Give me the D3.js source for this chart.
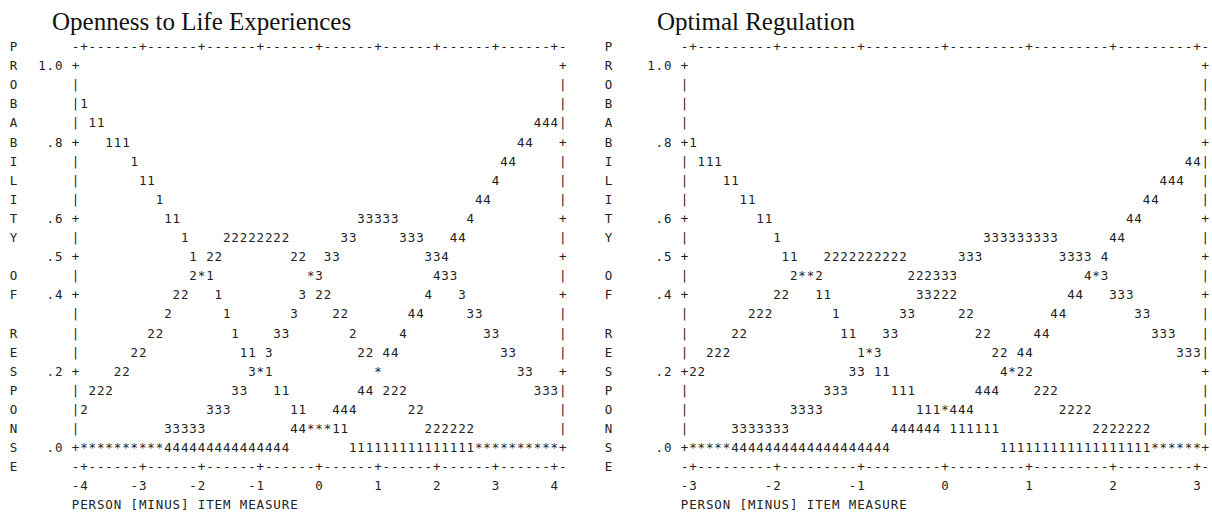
<!DOCTYPE html>
<html><head><meta charset="utf-8">
<script src="https://cdn.jsdelivr.net/npm/d3@7"></script>
<style>body{margin:0;background:#fff}</style>
</head><body>
<svg id="chart" width="1212" height="515"></svg>
<script>
const sp = n => " ".repeat(n);

// ---- Panel 1: Openness to Life Experiences (category probability curves, Winsteps text plot)
const openTitle = "Openness to Life Experiences";
const openXTicks = [-4, -3, -2, -1, 0, 1, 2, 3, 4];
const openRows = [
  "",
  "",
  "1",
  sp(1) + "11" + sp(51) + "444",
  sp(3) + "111" + sp(46) + "44",
  sp(6) + "1" + sp(43) + "44",
  sp(7) + "11" + sp(40) + "4",
  sp(9) + "1" + sp(37) + "44",
  sp(10) + "11" + sp(21) + "33333" + sp(8) + "4",
  sp(12) + "1" + sp(4) + "22222222" + sp(6) + "33" + sp(5) + "333" + sp(3) + "44",
  sp(13) + "1 22" + sp(8) + "22  33" + sp(10) + "334",
  sp(13) + "2*1" + sp(11) + "*3" + sp(13) + "433",
  sp(11) + "22   1" + sp(9) + "3 22" + sp(11) + "4   3",
  sp(10) + "2" + sp(6) + "1" + sp(7) + "3" + sp(4) + "22" + sp(7) + "44" + sp(5) + "33",
  sp(8) + "22" + sp(8) + "1" + sp(4) + "33" + sp(7) + "2" + sp(5) + "4" + sp(9) + "33",
  sp(6) + "22" + sp(11) + "11 3" + sp(10) + "22 44" + sp(12) + "33",
  sp(4) + "22" + sp(14) + "3*1" + sp(12) + "*" + sp(16) + "33",
  sp(1) + "222" + sp(14) + "33   11" + sp(8) + "44 222" + sp(15) + "333",
  "2" + sp(14) + "333" + sp(7) + "11   444" + sp(6) + "22",
  sp(10) + "33333" + sp(10) + "44***11" + sp(9) + "222222",
  "*****" + "*****" + "44444" + "44444" + "44444" + sp(7) + "11111" + "11111" + "11111" + "*****" + "*****"
];

// ---- Panel 2: Optimal Regulation
const regTitle = "Optimal Regulation";
const regXTicks = [-3, -2, -1, 0, 1, 2, 3];
const regRows = [
  "",
  "",
  "",
  "",
  "1",
  sp(1) + "111" + sp(55) + "44",
  sp(4) + "11" + sp(50) + "444",
  sp(6) + "11" + sp(46) + "44",
  sp(8) + "11" + sp(42) + "44",
  sp(10) + "1" + sp(24) + "333333333" + sp(6) + "44",
  sp(11) + "11   " + "2222222222" + sp(6) + "333" + sp(9) + "3333 4",
  sp(12) + "2**2" + sp(10) + "222333" + sp(15) + "4*3",
  sp(10) + "22   11" + sp(10) + "33222" + sp(13) + "44   333",
  sp(7) + "222" + sp(7) + "1" + sp(7) + "33" + sp(5) + "22" + sp(9) + "44" + sp(8) + "33",
  sp(5) + "22" + sp(11) + "11   33" + sp(9) + "22" + sp(5) + "44" + sp(12) + "333",
  sp(2) + "222" + sp(15) + "1*3" + sp(13) + "22 44" + sp(17) + "333",
  "22" + sp(17) + "33 11" + sp(13) + "4*22",
  sp(16) + "333" + sp(5) + "111" + sp(7) + "444" + sp(4) + "222",
  sp(12) + "3333" + sp(11) + "111*444" + sp(10) + "2222",
  sp(5) + "3333333" + sp(12) + "444444 111111" + sp(11) + "2222222",
  "*****" + "4444444444" + "444444444" + sp(13) + "1111111111" + "11111111" + "******"
];

// ---- shared axis text
const yTickValues = [1.0, 0.8, 0.6, 0.5, 0.4, 0.2, 0.0];
const yTickLabels = ["1.0", ".8", ".6", ".5", ".4", ".2", ".0"];
const yAxisTitle = ["P","R","O","B","A","B","I","L","I","T","Y","","O","F","","R","E","S","P","O","N","S","E"];
const xAxisTitle = "PERSON [MINUS] ITEM MEASURE";

// ---- layout
const CW = 8.4, Y0 = 46.5, PITCH = 19.1;
const MONO = "'DejaVu Sans Mono', 'Liberation Mono', monospace";
const FS = 12.5, INK = "#222";
const svg = d3.select("#chart");
svg.append("rect").attr("width", 1212).attr("height", 515).attr("fill", "#fff");

const panels = [
  { title: openTitle, ticks: openXTicks, rows: openRows, width: 57, axisX: 75.5, letterX: 13.5, titleX: 52 },
  { title: regTitle,  ticks: regXTicks,  rows: regRows,  width: 61, axisX: 684.5, letterX: 608.5, titleX: 657 }
];

panels.forEach(p => {
  const g = svg.append("g");
  const n = p.width;
  const col = d3.scaleLinear().domain([0, 1]).range([p.axisX, p.axisX + CW]);
  const row = d3.scaleLinear().domain([0, 1]).range([Y0, Y0 + PITCH]);
  const x = d3.scaleLinear().domain(d3.extent(p.ticks)).range([col(1), col(n)]);
  const y = d3.scaleLinear().domain([0, 1]).range([row(21), row(1)]);
  const tickCols = new Set(p.ticks.map(v => Math.round(col.invert(x(v)))));
  const tickRows = new Set(yTickValues.map(v => Math.round(row.invert(y(v)))));

  const cells = [];
  for (let c = 0; c <= n + 1; c++) {
    const ch = tickCols.has(c) ? "+" : "-";
    cells.push({ c, r: 0, ch }, { c, r: 22, ch });
  }
  for (let r = 1; r <= 21; r++) {
    const ch = tickRows.has(r) ? "+" : "|";
    cells.push({ c: 0, r, ch }, { c: n + 1, r, ch });
  }
  p.rows.forEach((s, i) => {
    [...s].forEach((ch, j) => { if (ch !== " " && j < n) cells.push({ c: j + 1, r: i + 1, ch }); });
  });
  yTickLabels.forEach((lab, k) => {
    const r = Math.round(row.invert(y(yTickValues[k])));
    [...lab].forEach((ch, j) => cells.push({ c: -1 - lab.length + j, r, ch }));
  });
  p.ticks.forEach(v => {
    const lab = String(v);
    const c0 = Math.round(col.invert(x(v)));
    [...lab].forEach((ch, j) => cells.push({ c: c0 - lab.length + 1 + j, r: 23, ch }));
  });
  [...xAxisTitle].forEach((ch, j) => { if (ch !== " ") cells.push({ c: j, r: 24, ch }); });

  g.selectAll("text.cell").data(cells).join("text")
    .attr("class", "cell")
    .attr("x", d => col(d.c))
    .attr("y", d => row(d.r) + 4.5)
    .attr("text-anchor", "middle")
    .attr("font-family", MONO)
    .attr("font-size", FS)
    .attr("fill", INK)
    .text(d => d.ch);

  g.selectAll("text.letter").data(yAxisTitle.map((ch, r) => ({ ch, r })).filter(d => d.ch)).join("text")
    .attr("class", "letter")
    .attr("x", p.letterX)
    .attr("y", d => row(d.r) + 4.5)
    .attr("text-anchor", "middle")
    .attr("font-family", MONO)
    .attr("font-size", FS)
    .attr("fill", INK)
    .text(d => d.ch);

  g.append("text")
    .attr("x", p.titleX).attr("y", 30)
    .attr("font-family", "'Liberation Serif', 'Times New Roman', serif")
    .attr("font-size", 25)
    .attr("fill", "#111")
    .text(p.title);
});
</script>
</body></html>
